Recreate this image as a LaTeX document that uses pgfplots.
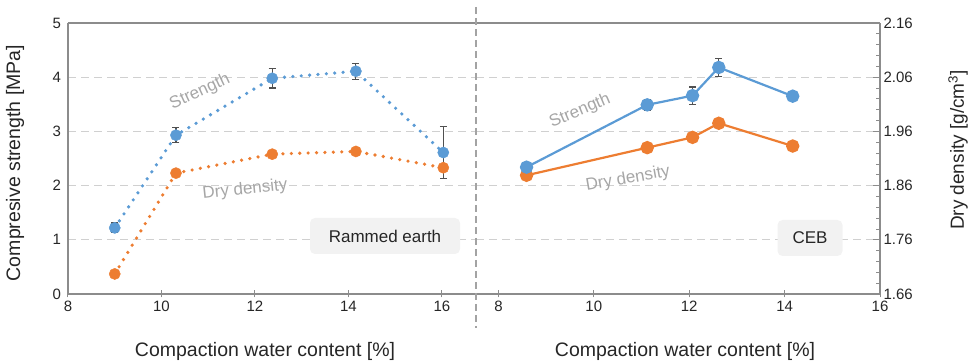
\documentclass[border=0pt]{standalone}
\usepackage{pgfplots}
\pgfplotsset{compat=1.18}
\usepackage{fontspec}
\setmainfont{Liberation Sans}
\definecolor{sblue}{HTML}{5B9BD5}
\definecolor{sorange}{HTML}{ED7D31}
\definecolor{frame}{HTML}{8C8C8C}
\definecolor{gridc}{HTML}{D0D0D0}
\definecolor{lbl}{HTML}{A6A6A6}
\definecolor{ebar}{HTML}{505050}
\definecolor{boxf}{HTML}{F2F2F2}
\definecolor{txt}{HTML}{262626}

\pgfplotsset{
  base/.style={scale only axis, height=271pt, ymin=0, ymax=5, clip=false,
    /pgf/number format/assume math mode=true,
    tick label style={font=\fontsize{15}{17}\selectfont, text=txt}},
  dotline/.style={line width=3.6pt, dash pattern=on 0pt off 8.4pt, line cap=round, no marks},
  mk/.style={only marks, mark=*, mark size=5.6pt, mark options={solid, line width=0.4pt}},
  solser/.style={line width=2.2pt, mark=*, mark size=5.6pt, mark options={solid, line width=0.4pt}},
  eb/.style={error bars/.cd, y dir=both, y explicit,
    error bar style={solid, color=ebar, line width=1.1pt, line cap=butt},
    error mark options={rotate=90, mark size=3.5pt, color=ebar, line width=1.1pt}},
}

\begin{document}
\begin{tikzpicture}[x=1pt,y=1pt]
% ---------- Left panel: Rammed earth ----------
\begin{axis}[base, at={(68pt,70pt)}, anchor=south west, width=408pt,
  xmin=8, xmax=16.73,
  axis x line*=box, axis y line*=left,
  xtick={8,10,12,14,16}, ytick={0,1,2,3,4,5},
  xtick pos=left, ytick pos=left,
  axis line style={draw=frame, line width=1.6pt},
  ymajorgrids, grid style={draw=gridc, line width=1.2pt, dash pattern=on 8pt off 5pt},
  xtick style={draw=frame, line width=1pt}, tick align=center, major tick length=7pt,
  ytick style={draw=none},
  ]
\addplot[dotline, color=sblue] coordinates {
  (9.00,1.22) (10.31,2.93) (12.37,3.98) (14.16,4.11) (16.03,2.61)
};
\addplot[mk, color=sblue, mark options={fill=sblue, draw=sblue}, eb] coordinates {
  (9.00,1.22) +- (0,0.09)
  (10.31,2.93) +- (0,0.14)
  (12.37,3.98) +- (0,0.18)
  (14.16,4.11) +- (0,0.15)
  (16.03,2.61) +- (0,0.48)
};
\end{axis}
\begin{axis}[base, at={(68pt,70pt)}, anchor=south west, width=408pt,
  xmin=8, xmax=16.73, ymin=1.66, ymax=2.16, hide axis]
\addplot[dotline, color=sorange] coordinates {
  (9.00,1.697) (10.31,1.883) (12.37,1.918) (14.16,1.923) (16.03,1.893)
};
\addplot[mk, color=sorange, mark options={fill=sorange, draw=sorange}] coordinates {
  (9.00,1.697) (10.31,1.883) (12.37,1.918) (14.16,1.923) (16.03,1.893)
};
\end{axis}
% ---------- Right panel: CEB ----------
\begin{axis}[base, at={(476pt,70pt)}, anchor=south west, width=404pt,
  xmin=7.53, xmax=16, ymin=1.66, ymax=2.16,
  axis x line*=box, axis y line*=right,
  xtick={8,10,12,14,16}, ytick={1.66,1.76,1.86,1.96,2.06,2.16},
  xtick pos=left, ytick pos=right,
  yticklabel style={/pgf/number format/.cd, fixed, fixed zerofill, precision=2},
  minor y tick num=4,
  axis line style={draw=frame, line width=1.6pt},
  ymajorgrids, grid style={draw=gridc, line width=1.2pt, dash pattern=on 8pt off 5pt},
  xtick style={draw=frame, line width=1pt}, xtick align=center, major tick length=7pt,
  ytick style={draw=frame, line width=0.8pt}, ytick align=inside,
  minor tick length=4pt,
  ]
\addplot[solser, color=sorange, mark options={fill=sorange, draw=sorange}] coordinates {
  (8.59,1.879) (11.12,1.930) (12.07,1.949) (12.62,1.975) (14.17,1.933)
};
\end{axis}
\begin{axis}[base, at={(476pt,70pt)}, anchor=south west, width=404pt,
  xmin=7.53, xmax=16, hide axis]
\addplot[solser, color=sblue, mark options={fill=sblue, draw=sblue}, eb] coordinates {
  (8.59,2.34) +- (0,0.02)
  (11.12,3.49) +- (0,0.10)
  (12.07,3.66) +- (0,0.16)
  (12.62,4.18) +- (0,0.17)
  (14.17,3.65) +- (0,0.03)
};
\end{axis}
% ---------- separator ----------
\draw[frame!80, line width=1.8pt, dash pattern=on 7pt off 4pt] (476,357) -- (476,36);
% ---------- annotations ----------
\begin{scope}[every node/.style={font=\fontsize{17}{19}\selectfont, text=lbl}]
\node[rotate=25] at (200,272) {Strength};
\node[rotate=6] at (245,174) {Dry density};
\node[rotate=23] at (580,253) {Strength};
\node[rotate=10] at (628,185) {Dry density};
\end{scope}
\node[fill=boxf, rounded corners=5pt, minimum width=150pt, minimum height=36pt,
  font=\fontsize{17}{19}\selectfont, text=txt] at (385,128) {Rammed earth};
\node[fill=boxf, rounded corners=5pt, minimum width=65pt, minimum height=36pt,
  font=\fontsize{17}{19}\selectfont, text=txt] at (810,126) {CEB};
% ---------- axis labels ----------
\node[rotate=90, font=\fontsize{19.5}{22}\selectfont, text=txt] at (15,201) {Compresive strength [MPa]};
\node[rotate=90, font=\fontsize{19}{22}\selectfont, text=txt] at (958,214) {Dry density [g/cm\textsuperscript{3}]};
\node[anchor=base, font=\fontsize{19.5}{22}\selectfont, text=txt] at (265,7) {Compaction water content [\%]};
\node[anchor=base, font=\fontsize{19.5}{22}\selectfont, text=txt] at (685,7) {Compaction water content [\%]};
\pgfresetboundingbox
\useasboundingbox (0,0) rectangle (972,364);
\end{tikzpicture}
\end{document}
